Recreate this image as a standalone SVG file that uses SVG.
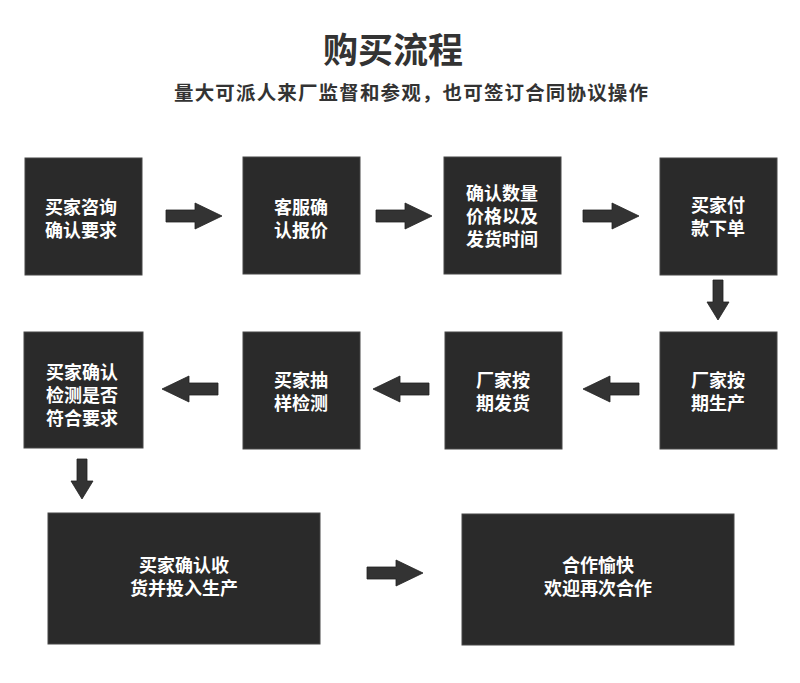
<svg xmlns="http://www.w3.org/2000/svg" width="800" height="683" viewBox="0 0 800 683">
<style>
.box{fill:#2a2a2a;stroke:#474747;stroke-width:1}
.t{font-family:"Noto Sans CJK SC","Noto Sans",sans-serif;font-weight:700;font-size:18px;fill:#ffffff;text-anchor:middle}
.title{font-family:"Noto Sans CJK SC","Noto Sans",sans-serif;font-weight:700;font-size:35px;fill:#333333;text-anchor:middle}
.sub{font-family:"Noto Sans CJK SC","Noto Sans",sans-serif;font-weight:700;font-size:19.5px;fill:#333333}
.arr{fill:#333333;stroke:#222222;stroke-width:0.8}
</style>
<defs>
<path id="arrR" d="M0,-6 H29 V-13 L56,0 L29,13 V6 H0 Z"/>
<path id="arrD" d="M-5,0 V22 H-11 L0,40 L11,22 H5 V0 Z"/>
</defs>
<rect width="800" height="683" fill="#ffffff"/>
<text class="title" x="393" y="63">购买流程</text>
<text class="sub" x="174" y="100" textLength="474" lengthAdjust="spacing">量大可派人来厂监督和参观，也可签订合同协议操作</text>

<g id="connectors">
<use href="#arrR" class="arr" transform="translate(166,216)"/>
<use href="#arrR" class="arr" transform="translate(376,216)"/>
<use href="#arrR" class="arr" transform="translate(583,216)"/>
<use href="#arrD" class="arr" transform="translate(718,280)"/>
<use href="#arrR" class="arr" transform="translate(639,389) scale(-1,1)"/>
<use href="#arrR" class="arr" transform="translate(429,389) scale(-1,1)"/>
<use href="#arrR" class="arr" transform="translate(218,389) scale(-1,1)"/>
<use href="#arrD" class="arr" transform="translate(82,459)"/>
<use href="#arrR" class="arr" transform="translate(367,573)"/>
</g>

<g id="n1"><rect class="box" x="25" y="158" width="117" height="117"/>
<text class="t" x="81" y="214">买家咨询</text><text class="t" x="81" y="237">确认要求</text></g>
<g id="n2"><rect class="box" x="243" y="157" width="117" height="117"/>
<text class="t" x="301" y="214">客服确</text><text class="t" x="301" y="237">认报价</text></g>
<g id="n3"><rect class="box" x="444" y="157" width="117" height="117"/>
<text class="t" x="502" y="200">确认数量</text><text class="t" x="502" y="223">价格以及</text><text class="t" x="502" y="246">发货时间</text></g>
<g id="n4"><rect class="box" x="660" y="158" width="117" height="117"/>
<text class="t" x="718" y="212">买家付</text><text class="t" x="718" y="235">款下单</text></g>

<g id="n5"><rect class="box" x="24" y="332" width="119" height="116"/>
<text class="t" x="82" y="379">买家确认</text><text class="t" x="82" y="402">检测是否</text><text class="t" x="82" y="425">符合要求</text></g>
<g id="n6"><rect class="box" x="243" y="332" width="117" height="117"/>
<text class="t" x="301" y="387">买家抽</text><text class="t" x="301" y="410">样检测</text></g>
<g id="n7"><rect class="box" x="445" y="332" width="117" height="117"/>
<text class="t" x="503" y="387">厂家按</text><text class="t" x="503" y="410">期发货</text></g>
<g id="n8"><rect class="box" x="660" y="332" width="117" height="117"/>
<text class="t" x="718" y="387">厂家按</text><text class="t" x="718" y="410">期生产</text></g>

<g id="n9"><rect class="box" x="48" y="513" width="272" height="131"/>
<text class="t" x="184" y="572">买家确认收</text><text class="t" x="184" y="595">货并投入生产</text></g>
<g id="n10"><rect class="box" x="462" y="514" width="272" height="131"/>
<text class="t" x="598" y="572">合作愉快</text><text class="t" x="598" y="595">欢迎再次合作</text></g>
</svg>
